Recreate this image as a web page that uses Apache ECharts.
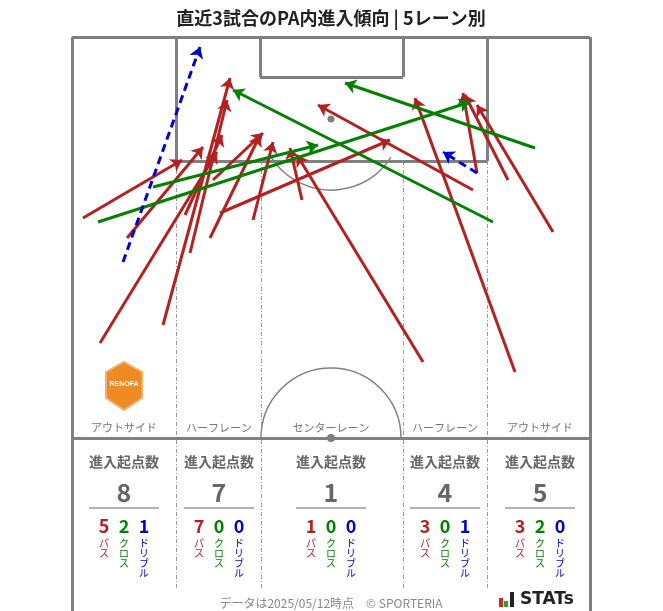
<!DOCTYPE html><html><head><meta charset="utf-8">
<script src="https://cdn.jsdelivr.net/npm/echarts@6/dist/echarts.min.js"></script>
<style>html,body{margin:0;padding:0;background:#fff}#c{width:663px;height:611px}</style></head><body><div id="c"></div>
<script>
const passes=[[83,218,182,160],[127,238,203,147],[100,343,217,152],[163,325,230,78],[190,253,227,100],[185,215,222,135],[213,180,263,133],[210,238,260,135],[253,220,273,142],[302,200,290,148],[220,213,390,140],[423,362,297,155],[473,190,318,105],[515,372,415,98],[477,173,463,93],[508,180,465,95],[553,232,477,105]];
const crosses=[[98,222,470,102],[153,187,318,145],[493,222,233,90],[535,148,345,83]];
const dribbles=[[123,262,200,47],[477,173,443,152]];
const lanes=['アウトサイド','ハーフレーン','センターレーン','ハーフレーン','アウトサイド'];
const laneX=[124,219,331,445,540];
const totals=[8,7,1,4,5];
const passCnt=[5,7,1,3,3],crossCnt=[2,0,0,0,2],dribCnt=[1,0,0,1,0];
const RED='#b22222',GREEN='#008000',BLUE='#0000cd',G='#808080';
const F='"Noto Sans CJK JP","Noto Sans",sans-serif';
const ch=echarts.init(document.getElementById('c'));
function seg(arr){return arr.map(a=>({coords:[[a[0],a[1]],[a[2],a[3]]]}));}
const pitch=[[72,37,590,37],[72,37,72,611],[590,37,590,611],[72,438,590,438],[176,37,176,161],[487,37,487,161],[176,161,487,161],[260,37,260,77],[403,37,403,77],[260,77,403,77]];
const dashed=[[176,161,176,590],[261,161,261,590],[403,161,403,590],[487,161,487,590]];
const g=[];
g.push({type:'arc',shape:{cx:331,cy:119,r:71,startAngle:Math.PI*0.18,endAngle:Math.PI*0.82},style:{stroke:G,lineWidth:1.5,fill:null},z:1});
g.push({type:'arc',shape:{cx:331,cy:438,r:70,startAngle:Math.PI,endAngle:Math.PI*2},style:{stroke:G,lineWidth:1.5,fill:null},z:1});
g.push({type:'circle',shape:{cx:331,cy:119,r:3.5},style:{fill:G},z:2});
g.push({type:'circle',shape:{cx:331,cy:438,r:4},style:{fill:G},z:2});
g.push({type:'text',x:331,y:18,style:{text:'直近3試合のPA内進入傾向 | 5レーン別',font:'bold 18px '+F,fill:'#222',align:'center',verticalAlign:'middle'}});
g.push({type:'polygon',shape:{points:[[124,362],[142,372],[142,398],[124,410],[106,398],[106,372]]},style:{fill:'#f08a24',stroke:'#f5b070',lineWidth:2},z:3});
g.push({type:'text',x:124,y:384,style:{text:'RENOFA',font:'bold 7px sans-serif',fill:'#fff',align:'center',verticalAlign:'middle'},z:4});
lanes.forEach((l,i)=>{
 const x=laneX[i];
 g.push({type:'text',x:x,y:428,style:{text:l,font:'11px '+F,fill:'#777',align:'center',verticalAlign:'middle'}});
 g.push({type:'text',x:x,y:462,style:{text:'進入起点数',font:'bold 14px '+F,fill:'#666',align:'center',verticalAlign:'middle'}});
 g.push({type:'text',x:x,y:492,style:{text:String(totals[i]),font:'bold 25px '+F,fill:'#666',align:'center',verticalAlign:'middle'}});
 g.push({type:'line',shape:{x1:x-35,y1:508,x2:x+35,y2:508},style:{stroke:'#666',lineWidth:1}});
 [[passCnt[i],RED,'パス'],[crossCnt[i],GREEN,'クロス'],[dribCnt[i],BLUE,'ドリブル']].forEach((c,j)=>{
  const cx=x+(j-1)*20;
  g.push({type:'text',x:cx,y:526,style:{text:String(c[0]),font:'bold 18px '+F,fill:c[1],align:'center',verticalAlign:'middle'}});
  g.push({type:'text',x:cx,y:538,style:{text:c[2].split('').join('\n'),font:'10px '+F,lineHeight:10,fill:c[1],align:'center',verticalAlign:'top'}});
 });
});
g.push({type:'text',x:331,y:603,style:{text:'データは2025/05/12時点　© SPORTERIA',font:'12px '+F,fill:'#888',align:'center',verticalAlign:'middle'}});
g.push({type:'rect',shape:{x:499,y:598,width:4,height:9},style:{fill:'#d22'}});
g.push({type:'rect',shape:{x:504,y:601,width:4,height:6},style:{fill:'#2a2'}});
g.push({type:'rect',shape:{x:510,y:592,width:4,height:15},style:{fill:'#222'}});
g.push({type:'text',x:520,y:600,style:{text:'STATs',font:'bold 17px "DejaVu Sans",sans-serif',fill:'#222',verticalAlign:'middle'}});
function arrows(d,color,type){return {type:'lines',coordinateSystem:'cartesian2d',data:seg(d),symbol:['none','arrow'],symbolSize:[0,11],lineStyle:{color:color,width:3,type:type,opacity:1},z:5};}
ch.setOption({animation:false,
 grid:{left:0,right:0,top:0,bottom:0},
 xAxis:{type:'value',min:0,max:663,show:false},
 yAxis:{type:'value',min:0,max:611,inverse:true,show:false},
 series:[
  {type:'lines',coordinateSystem:'cartesian2d',data:seg(pitch),lineStyle:{color:G,width:3,opacity:1},z:2,silent:true},
  {type:'lines',coordinateSystem:'cartesian2d',data:seg(dashed),lineStyle:{color:'#999',width:1,type:[4,2,1,2],opacity:1},z:1,silent:true},
  arrows(passes,RED,'solid'),arrows(crosses,GREEN,'solid'),arrows(dribbles,BLUE,[8,5])
 ],
 graphic:g});
</script></body></html>
